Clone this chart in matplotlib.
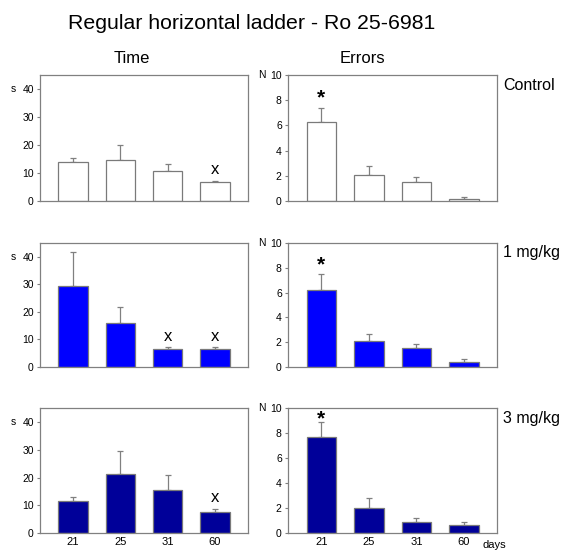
import matplotlib.pyplot as plt
import numpy as np

plt.rcParams['font.family'] = ['Liberation Sans', 'DejaVu Sans']

# DATA
days = ['21', '25', '31', '60']
groups = ['Control', '1 mg/kg', '3 mg/kg']
colors = ['white', '#0000FF', '#000099']

time_mean = [
    [14.0, 14.8, 10.7, 6.7],
    [29.3, 15.8, 6.7, 6.4],
    [11.6, 21.4, 15.4, 7.7],
]
time_err = [
    [1.4, 5.2, 2.4, 0.6],
    [12.5, 6.1, 0.5, 0.7],
    [1.4, 8.2, 5.4, 1.1],
]
time_marks = [[3], [2, 3], [3]]  # bars marked with x

err_mean = [
    [6.3, 2.1, 1.5, 0.2],
    [6.2, 2.1, 1.52, 0.4],
    [7.68, 2.0, 0.91, 0.64],
]
err_err = [
    [1.1, 0.7, 0.4, 0.15],
    [1.3, 0.54, 0.35, 0.21],
    [1.2, 0.8, 0.29, 0.24],
]
err_marks = [[0], [0], [0]]  # bars marked with *

# LAYOUT (figure fractions)
rows_bottom = [0.6345, 0.3327, 0.0309]
rows_height = [0.229, 0.2255, 0.227]
x_time, w_time = 0.0712, 0.370
x_err, w_err = 0.5125, 0.372


def style_axes(ax, ymax, yticks):
    ax.set_xlim(-0.7, 3.7)
    ax.set_ylim(0, ymax)
    ax.set_yticks(yticks)
    for sp in ax.spines.values():
        sp.set_color('#808080')
        sp.set_linewidth(0.9)
    ax.tick_params(axis='y', direction='out', length=2.5, width=0.8,
                   color='#808080', labelsize=7.5, pad=2)
    ax.tick_params(axis='x', length=0, labelsize=8, pad=3)


def draw_bars(ax, means, errs, color):
    x = np.arange(len(means))
    ax.bar(x, means, width=0.62, color=color, edgecolor='#7a7a7a',
           linewidth=0.9, zorder=2)
    ax.errorbar(x, means, yerr=[np.zeros(len(errs)), errs], fmt='none',
                ecolor='#808080', elinewidth=0.9, capsize=2.2,
                capthick=0.9, zorder=1)
    return x


fig = plt.figure(figsize=(5.62, 5.5), dpi=100)

for i in range(3):
    ax_t = fig.add_axes([x_time, rows_bottom[i], w_time, rows_height[i]])
    x = draw_bars(ax_t, time_mean[i], time_err[i], colors[i])
    style_axes(ax_t, 45, [0, 10, 20, 30, 40])
    for k in time_marks[i]:
        ax_t.text(x[k], time_mean[i][k] + time_err[i][k] + 1.2, 'x',
                  ha='center', va='bottom', fontsize=12)
    ax_t.text(-0.13, 40 / 45, 's', transform=ax_t.transAxes,
              ha='center', va='center', fontsize=7.5)

    ax_e = fig.add_axes([x_err, rows_bottom[i], w_err, rows_height[i]])
    x = draw_bars(ax_e, err_mean[i], err_err[i], colors[i])
    style_axes(ax_e, 10, [0, 2, 4, 6, 8, 10])
    for k in err_marks[i]:
        # star sits above the error bar, kept inside the frame
        ystar = min(err_mean[i][k] + err_err[i][k], 8.4)
        ax_e.text(x[k], ystar, '*',
                  ha='center', va='bottom', fontsize=15, fontweight='bold')
    ax_e.text(-0.124, 1.0, 'N', transform=ax_e.transAxes,
              ha='center', va='center', fontsize=7.5)

    ax_e.text(1.03, 0.92, groups[i],
              transform=ax_e.transAxes, ha='left', va='center', fontsize=11.5)

    if i == 2:
        ax_t.set_xticks(x)
        ax_t.set_xticklabels(days)
        ax_e.set_xticks(x)
        ax_e.set_xticklabels(days)
        ax_e.text(0.93, -0.095, 'days', transform=ax_e.transAxes,
                  ha='left', va='center', fontsize=8)
    else:
        ax_t.set_xticks([])
        ax_e.set_xticks([])

fig.text(0.447, 0.958, 'Regular horizontal ladder - Ro 25-6981',
         ha='center', va='center', fontsize=15.3)
fig.text(0.235, 0.894, 'Time', ha='center', va='center', fontsize=12)
fig.text(0.645, 0.894, 'Errors', ha='center', va='center', fontsize=12)

fig.savefig('out.png', dpi=100, facecolor='white')
